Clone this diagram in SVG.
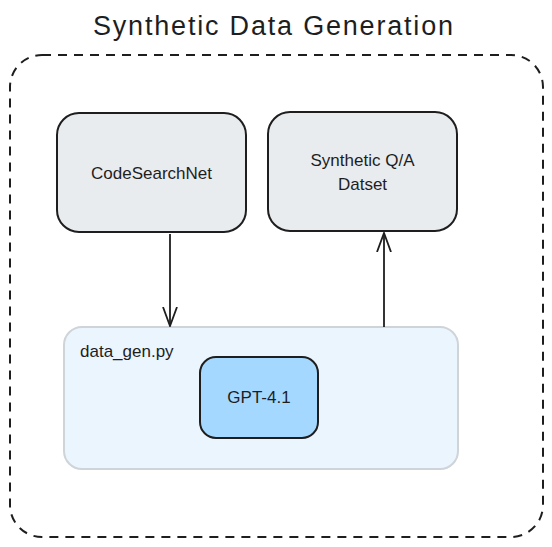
<svg xmlns="http://www.w3.org/2000/svg" width="552" height="547" viewBox="0 0 552 547">
<style>
text{font-family:"Liberation Sans","DejaVu Sans",sans-serif;fill:#1e1e1e}
.node{fill:#e9ecef;stroke:#1e1e1e;stroke-width:2}
.conn{stroke:#1e1e1e;stroke-width:1.8;fill:none}
</style>
<defs>
<marker id="ah" viewBox="0 0 20 20" refX="19" refY="10" markerWidth="20" markerHeight="20" markerUnits="userSpaceOnUse" orient="auto">
<path d="M0 3 L19 10 L0 17" fill="none" stroke="#1e1e1e" stroke-width="1.8"/>
</marker>
</defs>
<rect width="552" height="547" fill="#ffffff"/>
<text x="273" y="35" font-size="27" text-anchor="middle" textLength="360" lengthAdjust="spacing">Synthetic Data Generation</text>
<g id="frame">
<rect x="10" y="55" width="533" height="482" rx="32" fill="none" stroke="#1e1e1e" stroke-width="2" stroke-dasharray="9 7"/>
</g>
<g id="data_gen">
<rect x="64" y="327" width="394" height="142" rx="18" fill="#ebf5fe" stroke="#cfd4d8" stroke-width="2"/>
<text x="80" y="357" font-size="17">data_gen.py</text>
</g>
<g id="gpt41">
<rect x="200" y="357" width="118" height="81" rx="16" fill="#a5d8ff" stroke="#1e1e1e" stroke-width="2"/>
<text x="259" y="403" font-size="17" text-anchor="middle">GPT-4.1</text>
</g>
<g id="codesearchnet">
<rect class="node" x="57" y="113" width="189" height="119" rx="22"/>
<text x="151.5" y="179" font-size="17" text-anchor="middle">CodeSearchNet</text>
</g>
<g id="synthetic_qa">
<rect class="node" x="268" y="112" width="189" height="119" rx="22"/>
<text x="362.5" y="166" font-size="17" text-anchor="middle">Synthetic Q/A</text>
<text x="362.5" y="190" font-size="17" text-anchor="middle">Datset</text>
</g>
<g id="connectors">
<path class="conn" d="M170 234 L170 326" marker-end="url(#ah)"/>
<path class="conn" d="M384 327 L384 233" marker-end="url(#ah)"/>
</g>
</svg>
